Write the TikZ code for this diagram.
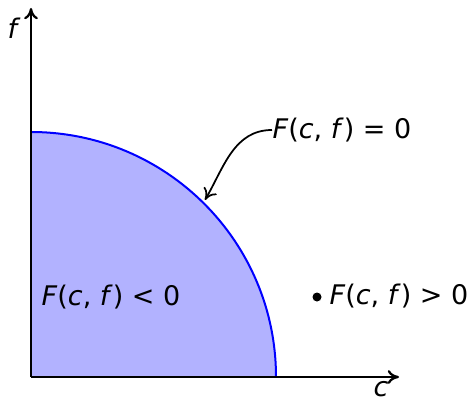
\documentclass[tikz,border=0pt]{standalone}
\usepackage{fontspec}
\setmainfont{DejaVu Sans}
\usetikzlibrary{arrows.meta}
\newcommand{\ml}[1]{\textit{#1}}
\begin{document}
\begin{tikzpicture}[x=0.4pt,y=0.4pt,
  axis/.style={line width=0.9pt,-{To[length=4.5pt,width=5.5pt]}},
  lbl/.style={font=\fontsize{10.8}{12}\selectfont, inner sep=0pt},
  pointer/.style={line width=0.7pt,-{To[length=4.5pt,width=6pt]}}]
\useasboundingbox (0,0) rectangle (473,401);
\coordinate (O) at (31,24);
\coordinate (xend) at (399,24);
\coordinate (yend) at (31,393);
\coordinate (arcpt) at (205,201);
\fill[blue!30] (31,24) -- (276,24) arc[start angle=0,end angle=90,radius=245] -- cycle;
\draw[blue,line width=0.8pt] (276,24) arc[start angle=0,end angle=90,radius=245];
\draw[axis] (O) -- (xend);
\draw[axis] (O) -- (yend);
\node[lbl] (fl) at (14,373) {\ml{f}};
\node[lbl] (cl) at (381,12) {\ml{c}};
\node[lbl,anchor=west] (eq) at (272,271) {\ml{F}(\ml{c}, \ml{f}) = 0};
\node[lbl] (neg) at (111,104) {\ml{F}(\ml{c}, \ml{f}) < 0};
\node[lbl,anchor=west] (pos) at (329,105) {\ml{F}(\ml{c}, \ml{f}) > 0};
\fill (317,104) circle[radius=4.5];
\draw[pointer] (eq.west) to[out=180,in=60] (arcpt);
\end{tikzpicture}
\end{document}
